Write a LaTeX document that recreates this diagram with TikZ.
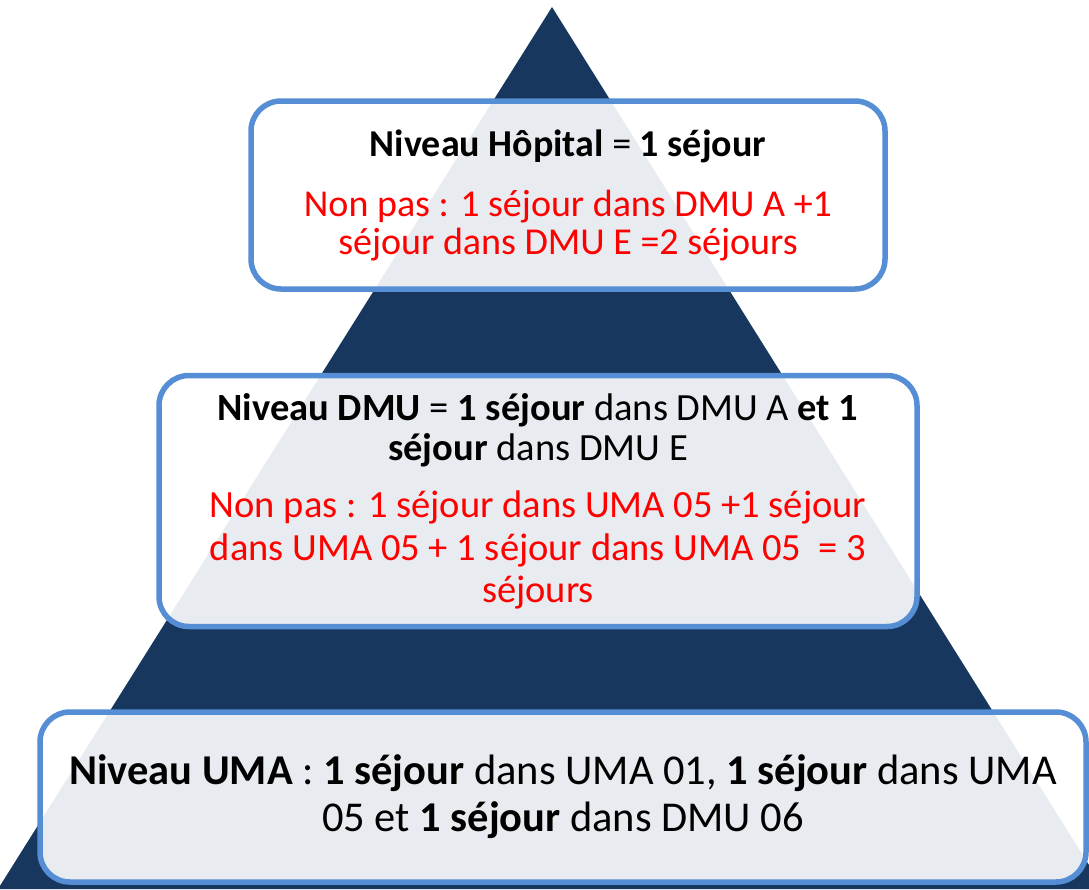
\documentclass[tikz,border=0pt]{standalone}
\usepackage{fontspec}
\setmainfont{Carlito}
\definecolor{navy}{HTML}{17375E}
\definecolor{boxline}{HTML}{558ED5}
\definecolor{redtxt}{HTML}{FF0000}
\tikzset{
  levelbox/.style={draw=boxline, line width=5.5pt, rounded corners=30pt,
    fill=white, fill opacity=0.9, text opacity=1, align=center, inner sep=0pt},
}
\begin{document}
\begin{tikzpicture}[x=1pt,y=-1pt]
\useasboundingbox (0,0) rectangle (1089,889);
\fill[navy] (552,7) -- (-2,889) -- (1104,889) -- cycle;
\node[levelbox, minimum width=634pt, minimum height=188pt,
      font=\fontsize{38}{38}\selectfont] (box1) at (568,195)
  {\textbf{Niveau Hôpital} = \textbf{1 séjour}\\[22pt]
   \color{redtxt}Non pas : 1 séjour dans DMU A +1\\
   \color{redtxt}séjour dans DMU E =2 séjours};
\node[levelbox, minimum width=758pt, minimum height=251pt,
      font=\fontsize{38.5}{40}\selectfont] (box2) at (538,501)
  {\textbf{Niveau DMU} = \textbf{1 séjour} dans DMU A \textbf{et 1}\\
   \textbf{séjour} dans DMU E\\[17pt]
   \color{redtxt}Non pas : 1 séjour dans UMA 05 +1 séjour\\[3pt]
   \color{redtxt}dans UMA 05 + 1 séjour dans UMA 05 \ = 3\\[2pt]
   \color{redtxt}séjours};
\node[levelbox, minimum width=1046pt, minimum height=170pt,
      font=\fontsize{42.5}{47}\selectfont] (box3) at (563,797)
  {\textbf{Niveau UMA} : \textbf{1 séjour} dans UMA 01, \textbf{1 séjour} dans UMA\\
   05 et \textbf{1 séjour} dans DMU 06};
\end{tikzpicture}
\end{document}
